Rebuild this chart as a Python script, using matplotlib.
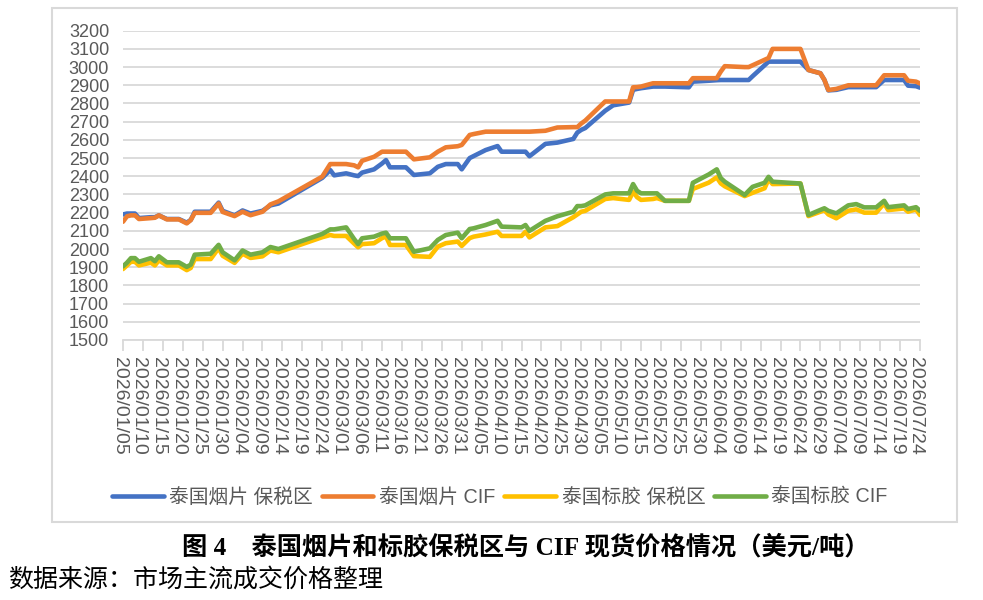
import matplotlib
matplotlib.use("Agg")
import matplotlib.pyplot as plt
import matplotlib.transforms as mtransforms
import pandas as pd
from matplotlib.patches import Rectangle

plt.rcParams['font.family'] = ['Liberation Sans', 'Noto Sans CJK SC']

# --- data (USD/t), knots where the lines change ---
dates = [
    "01-05", "01-06", "01-07", "01-08", "01-09", "01-12", "01-13", "01-14", "01-16", "01-19",
    "01-21", "01-22", "01-23", "01-27", "01-29", "01-30", "02-02", "02-04", "02-06", "02-09",
    "02-11", "02-13", "02-24", "02-26", "02-27", "03-02", "03-04", "03-05", "03-06", "03-09",
    "03-11", "03-12", "03-13", "03-17", "03-19", "03-23", "03-25", "03-27", "03-30", "03-31",
    "04-02", "04-03", "04-06", "04-09", "04-10", "04-15", "04-16", "04-17", "04-21", "04-24",
    "04-28", "04-29", "04-30", "05-01", "05-06", "05-08", "05-12", "05-13", "05-14", "05-15",
    "05-18", "05-19", "05-21", "05-27", "05-28", "06-01", "06-03", "06-04", "06-05", "06-10",
    "06-11", "06-12", "06-15", "06-16", "06-17", "06-24", "06-26", "06-29", "06-30", "07-01",
    "07-03", "07-06", "07-08", "07-10", "07-13", "07-15", "07-16", "07-20", "07-21", "07-23",
    "07-24",
]
rss_bonded = [
    2190, 2195, 2195, 2195, 2170, 2175, 2175, 2185, 2165, 2165,
    2145, 2160, 2205, 2205, 2255, 2210, 2185, 2212, 2195, 2210,
    2240, 2250, 2391, 2434, 2405, 2416, 2405, 2401, 2420, 2438,
    2470, 2489, 2449, 2449, 2407, 2416, 2452, 2467, 2467, 2438,
    2500, 2511, 2544, 2566, 2535, 2535, 2535, 2510, 2578, 2585,
    2605, 2640, 2655, 2665, 2760, 2790, 2805, 2875, 2880, 2884,
    2893, 2893, 2893, 2889, 2920, 2925, 2928, 2929, 2929, 2929,
    2929, 2950, 3010, 3030, 3030, 3030, 2984, 2966, 2930, 2872,
    2875, 2890, 2890, 2890, 2890, 2929, 2929, 2929, 2898, 2895,
    2887,
]
rss_cif = [
    2150, 2180, 2185, 2185, 2165, 2170, 2172, 2185, 2163, 2163,
    2141, 2159, 2199, 2199, 2250, 2204, 2181, 2205, 2186, 2205,
    2245, 2262, 2398, 2467, 2467, 2467, 2460, 2449, 2485, 2507,
    2535, 2535, 2535, 2535, 2493, 2504, 2535, 2559, 2565, 2572,
    2627, 2632, 2645, 2645, 2645, 2645, 2645, 2645, 2650, 2668,
    2670, 2670, 2690, 2706, 2811, 2811, 2811, 2889, 2890, 2893,
    2911, 2911, 2911, 2911, 2939, 2939, 2939, 2975, 3005, 3000,
    3000, 3010, 3040, 3050, 3100, 3100, 2984, 2966, 2930, 2874,
    2880, 2900, 2900, 2900, 2900, 2955, 2955, 2955, 2925, 2920,
    2910,
]
str_bonded = [
    1890, 1910, 1930, 1930, 1910, 1925, 1910, 1938, 1910, 1910,
    1884, 1896, 1945, 1945, 2005, 1963, 1924, 1974, 1951, 1960,
    1992, 1982, 2065, 2077, 2072, 2072, 2030, 2010, 2027, 2032,
    2060, 2068, 2022, 2022, 1961, 1957, 2013, 2032, 2041, 2017,
    2060, 2068, 2080, 2095, 2072, 2072, 2095, 2064, 2119, 2126,
    2175, 2190, 2205, 2210, 2275, 2280, 2270, 2315, 2285, 2270,
    2275, 2280, 2265, 2265, 2330, 2365, 2394, 2361, 2345, 2291,
    2300, 2309, 2334, 2383, 2357, 2360, 2181, 2205, 2214, 2190,
    2169, 2210, 2218, 2200, 2200, 2251, 2214, 2223, 2205, 2218,
    2187,
]
str_cif = [
    1905, 1925, 1950, 1950, 1930, 1950, 1933, 1960, 1927, 1927,
    1902, 1914, 1969, 1974, 2023, 1982, 1938, 1992, 1969, 1982,
    2011, 2000, 2083, 2108, 2108, 2119, 2055, 2027, 2059, 2068,
    2085, 2090, 2059, 2059, 1985, 2004, 2050, 2077, 2090, 2059,
    2110, 2114, 2132, 2155, 2123, 2119, 2132, 2100, 2155, 2180,
    2205, 2236, 2236, 2240, 2300, 2306, 2306, 2357, 2320, 2306,
    2306, 2306, 2265, 2265, 2364, 2410, 2438, 2390, 2370, 2297,
    2320, 2342, 2364, 2397, 2370, 2360, 2187, 2215, 2224, 2210,
    2196, 2240, 2247, 2229, 2229, 2265, 2230, 2240, 2220, 2230,
    2210,
]
series_names = ["泰国烟片 保税区", "泰国烟片 CIF", "泰国标胶 保税区", "泰国标胶 CIF"]
series_colors = ["#4472C4", "#ED7D31", "#FFC000", "#70AD47"]

x = pd.to_datetime(["2026-" + d for d in dates])
start, end = pd.Timestamp("2026-01-05"), pd.Timestamp("2026-07-24")
tick_dates = pd.date_range(start, end, freq="5D")

# --- figure ---
fig = plt.figure(figsize=(9.83, 6.0), dpi=100)
ax = fig.add_axes([123 / 983, 1 - 340 / 600, 797 / 983, 309.3 / 600])

lines = []
for vals, name, col in zip([rss_bonded, rss_cif, str_bonded, str_cif], series_names, series_colors):
    ln, = ax.plot(x, vals, color=col, lw=3.3, label=name, solid_capstyle="round",
                  solid_joinstyle="round")
    lines.append(ln)

ax.set_xlim(start, end)
ax.set_ylim(1500, 3200)
ax.set_yticks(range(1500, 3201, 100))
ax.set_xticks(tick_dates)
ax.set_xticklabels([d.strftime("%Y/%m/%d") for d in tick_dates])

ax.grid(axis="y", color="#d9d9d9", lw=1.3)
ax.set_axisbelow(True)
for s in ["top", "right", "left"]:
    ax.spines[s].set_visible(False)
ax.spines["bottom"].set_color("#d9d9d9")
ax.spines["bottom"].set_linewidth(1.3)

ax.tick_params(axis="y", length=0, pad=10, labelsize=13, labelcolor="#595959")
ax.tick_params(axis="x", length=8, width=1.3, color="#d9d9d9", pad=4,
               labelsize=14, labelcolor="#595959", labelrotation=-90)
shift = mtransforms.ScaledTranslation(-4 / 100, 0, fig.dpi_scale_trans)
for lab in ax.get_xticklabels():
    lab.set_transform(lab.get_transform() + shift)

leg = fig.legend(lines, series_names, loc="center", bbox_to_anchor=(500 / 983, 1 - 497 / 600),
                 ncol=4, frameon=False, fontsize=14.2, handlelength=2.6,
                 handletextpad=0.3, columnspacing=0.45)
for t in leg.get_texts():
    t.set_color("#595959")

# chart frame
fig.patches.append(Rectangle((52 / 983, 1 - 522 / 600), 905 / 983, 514 / 600,
                             transform=fig.transFigure, fill=False, ec="#d9d9d9", lw=1.5))

fig.text(526 / 983, 1 - 547 / 600, "图 4\u3000泰国烟片和标胶保税区与 CIF 现货价格情况（美元/吨）",
         ha="center", va="center", fontsize=18.2, fontweight="bold",
         family=["Liberation Serif", "Noto Sans CJK SC"])
fig.text(8 / 983, 1 - 580 / 600, "数据来源：市场主流成交价格整理", ha="left", va="center",
         fontsize=18, family=["Noto Sans CJK SC"])

fig.savefig("out.png", dpi=100)
